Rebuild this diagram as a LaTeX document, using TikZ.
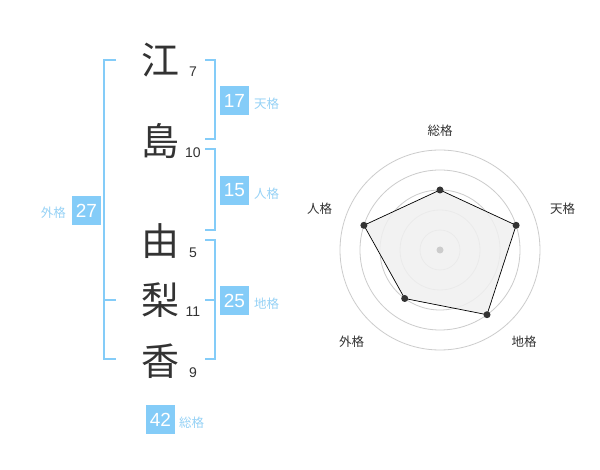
\documentclass[tikz,border=0pt]{standalone}
\usepackage{fontspec}
\setmainfont{Liberation Sans}
\newfontfamily\jp{Noto Sans CJK JP}
\definecolor{boxblue}{HTML}{84CCF8}
\definecolor{lblblue}{HTML}{96D2F6}
\definecolor{kanji}{HTML}{333333}
\definecolor{ring}{HTML}{CCCCCC}
\definecolor{polyfill}{HTML}{F0F0F0}
\tikzset{
  kj/.style={font=\jp\fontsize{38}{38}\selectfont, text=kanji, inner sep=0pt},
  strk/.style={font=\fontsize{14}{14}\selectfont, text=kanji, inner sep=0pt},
  valbox/.style={fill=boxblue, text=white, minimum width=28.5pt, minimum height=28.5pt, inner sep=0pt, font=\fontsize{19}{19}\selectfont},
  gname/.style={font=\jp\fontsize{12.5}{12.5}\selectfont, text=lblblue, inner sep=0pt},
  brk/.style={draw=boxblue, line width=2pt},
  rlabel/.style={font=\jp\fontsize{12.5}{12.5}\selectfont, text=kanji, inner sep=0pt},
  ringc/.style={draw=ring, line width=0.8pt},
  vdot/.style={circle, fill=kanji, inner sep=0pt, minimum size=7pt},
}
\begin{document}
\begin{tikzpicture}[x=1pt,y=-1pt]
\path[use as bounding box, fill=white] (0,0) rectangle (600,470);
% kanji
\node[kj] (c1) at (160.5,60) {江};
\node[kj] (c2) at (160.5,141) {島};
\node[kj] (c3) at (160.5,241) {由};
\node[kj] (c4) at (160.5,300) {梨};
\node[kj] (c5) at (160.5,361) {香};
% stroke counts
\node[strk] (n1) at (193,72) {7};
\node[strk] (n2) at (193,153) {10};
\node[strk] (n3) at (193,253) {5};
\node[strk] (n4) at (193,312) {11};
\node[strk] (n5) at (193,373) {9};
% brackets
\draw[brk] (205,60) -- (215,60) -- (215,139) -- (205,139);
\draw[brk] (205,149) -- (215,149) -- (215,230) -- (205,230);
\draw[brk] (205,240) -- (215,240) -- (215,359) -- (205,359);
\draw[brk] (205,300) -- (215,300);
\draw[brk] (116,60) -- (104,60) -- (104,359) -- (116,359);
\draw[brk] (104,300) -- (116,300);
% value boxes
\node[valbox] (ten) at (234.5,100.5) {17};
\node[gname, anchor=west] (tenL) at (254,104) {天格};
\node[valbox] (jin) at (234.5,190.5) {15};
\node[gname, anchor=west] (jinL) at (254,194) {人格};
\node[valbox] (chi) at (234.5,300.5) {25};
\node[gname, anchor=west] (chiL) at (254,304) {地格};
\node[valbox] (gai) at (86.5,210.5) {27};
\node[gname, anchor=east] (gaiL) at (66,213) {外格};
\node[valbox] (sou) at (160.5,419.5) {42};
\node[gname, anchor=west] (souL) at (179,423) {総格};
% radar
\coordinate (O) at (440,250);
\foreach \r in {20,40,60,80,100} \draw[ringc] (O) circle[radius=\r];
\coordinate (pS) at (440,190);
\coordinate (pT) at (516.1,225.3);
\coordinate (pC) at (487.0,314.7);
\coordinate (pG) at (404.7,298.5);
\coordinate (pJ) at (363.9,225.3);
\draw[fill=polyfill, fill opacity=0.85, draw=black, line width=0.7pt] (pS) -- (pT) -- (pC) -- (pG) -- (pJ) -- cycle;
\fill[ring] (O) circle[radius=3.5];
\foreach \p in {pS,pT,pC,pG,pJ} \node[vdot] at (\p) {};
\node[rlabel] (lS) at (440,130.5) {総格};
\node[rlabel] (lT) at (562.5,208.5) {天格};
\node[rlabel] (lC) at (524,342) {地格};
\node[rlabel] (lG) at (351.5,342) {外格};
\node[rlabel] (lJ) at (319.5,209) {人格};
\end{tikzpicture}
\end{document}
